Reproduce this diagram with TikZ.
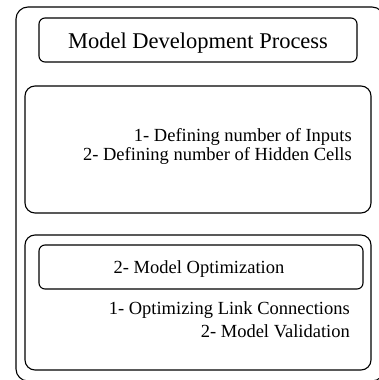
\documentclass[tikz,border=0pt]{standalone}
\usepackage{fontspec}
\setmainfont{Liberation Serif}
\begin{document}
\begin{tikzpicture}[x=1pt,y=-1pt,
  box/.style={draw=black,line width=1.1pt,rectangle,inner sep=0pt,outer sep=0pt,anchor=north west},
  bigbox/.style={box,rounded corners=10pt},
  smallbox/.style={box,rounded corners=6pt},
  bigtxt/.style={inner sep=0pt,font=\fontsize{22.5}{27}\selectfont},
  txt/.style={inner sep=0pt,font=\fontsize{18.5}{22}\selectfont}]
\useasboundingbox (0,0) rectangle (379,380);
\clip (0,0) rectangle (379,380);
% outer frame
\node[box,rounded corners=12pt,minimum width=368pt,minimum height=374pt] (outer) at (16,7) {};
% title box
\node[smallbox,minimum width=318pt,minimum height=44pt] (titlebox) at (39,18) {};
\node[bigtxt,anchor=base] (title) at (198,48) {Model Development Process};
% box 2
\node[bigbox,minimum width=346pt,minimum height=127pt] (boxa) at (25,86) {};
\node[txt,anchor=base east] (a1) at (352,141) {1- Defining number of Inputs};
\node[txt,anchor=base east] (a2) at (352,160) {2- Defining number of Hidden Cells};
% box 3
\node[bigbox,minimum width=346pt,minimum height=135pt] (boxb) at (25,235) {};
\node[smallbox,minimum width=324pt,minimum height=44pt] (optbox) at (39,245) {};
\node[txt,anchor=base] (opt) at (199,273) {2- Model Optimization};
\node[txt,anchor=base east] (b1) at (350,314) {1- Optimizing Link Connections};
\node[txt,anchor=base east] (b2) at (350,337) {2- Model Validation};
\end{tikzpicture}
\end{document}
